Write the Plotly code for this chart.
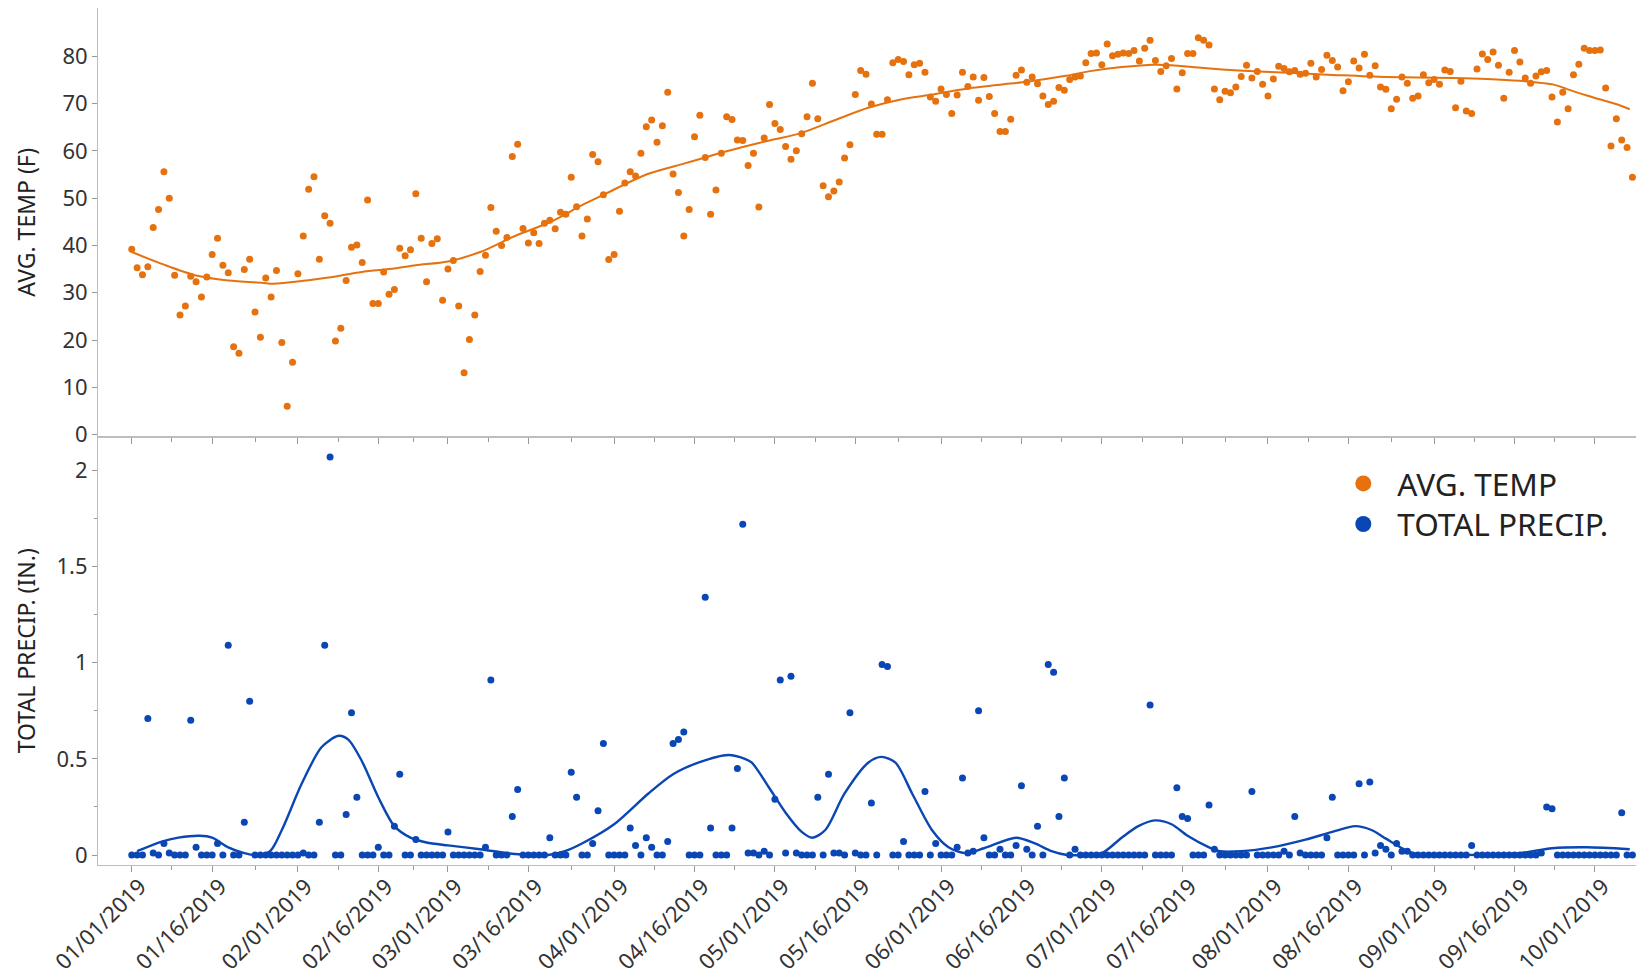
import pandas as pd
import plotly.graph_objects as go
from plotly.subplots import make_subplots

START = '2019-01-01'

# daily values, 01/01/2019 .. 10/08/2019
avg_temp = [
    39.2, 35.3, 33.8, 35.5, 43.8, 47.6, 55.6, 50.0, 33.7, 25.3,
    27.2, 33.5, 32.3, 29.1, 33.3, 38.1, 41.5, 35.8, 34.2, 18.6,
    17.2, 34.9, 37.1, 25.9, 20.6, 33.1, 29.1, 34.7, 19.5, 6.0,
    15.3, 34.0, 42.0, 51.9, 54.5, 37.1, 46.3, 44.7, 19.8, 22.5,
    32.6, 39.6, 40.1, 36.4, 49.6, 27.7, 27.7, 34.4, 29.7, 30.7,
    39.4, 37.8, 39.1, 50.9, 41.5, 32.3, 40.4, 41.4, 28.4, 35.0,
    36.8, 27.2, 13.1, 20.1, 25.3, 34.5, 37.9, 48.0, 43.0, 40.0,
    41.7, 58.8, 61.4, 43.6, 40.5, 42.7, 40.4, 44.7, 45.3, 43.5,
    47.0, 46.6, 54.4, 48.2, 42.0, 45.6, 59.2, 57.7, 50.7, 37.0,
    38.1, 47.2, 53.2, 55.6, 54.7, 59.5, 65.1, 66.5, 61.8, 65.3,
    72.4, 55.1, 51.2, 42.0, 47.6, 63.0, 67.5, 58.6, 46.6, 51.7,
    59.5, 67.2, 66.6, 62.3, 62.2, 56.9, 59.5, 48.1, 62.7, 69.8,
    65.8, 64.5, 60.9, 58.2, 60.0, 63.6, 67.2, 74.3, 66.8, 52.6,
    50.3, 51.5, 53.4, 58.5, 61.3, 71.9, 77.0, 76.2, 69.9, 63.5,
    63.5, 70.8, 78.6, 79.3, 78.9, 76.1, 78.2, 78.5, 76.6, 71.4,
    70.5, 73.1, 71.9, 67.9, 71.8, 76.6, 73.6, 75.6, 70.7, 75.5,
    71.5, 67.9, 64.1, 64.1, 66.7, 76.0, 77.1, 74.5, 75.6, 74.2,
    71.6, 69.8, 70.5, 73.4, 72.8, 75.1, 75.6, 75.8, 78.6, 80.6,
    80.7, 78.2, 82.6, 80.1, 80.4, 80.7, 80.6, 81.2, 79.0, 81.7,
    83.4, 79.1, 76.8, 78.0, 79.5, 73.1, 76.5, 80.6, 80.6, 83.9,
    83.4, 82.4, 73.1, 70.8, 72.6, 72.3, 73.5, 75.7, 78.1, 75.4,
    76.8, 74.1, 71.6, 75.2, 77.9, 77.4, 76.7, 77.0, 76.2, 76.4,
    78.5, 75.6, 77.2, 80.2, 79.1, 77.7, 72.7, 74.6, 79.0, 77.5,
    80.4, 76.0, 78.0, 73.5, 73.0, 68.9, 70.9, 75.6, 74.3, 71.1,
    71.6, 76.1, 74.4, 75.1, 74.1, 77.1, 76.8, 69.1, 74.7, 68.4,
    67.9, 77.3, 80.5, 79.3, 80.9, 78.1, 71.1, 76.6, 81.2, 78.8,
    75.4, 74.3, 75.8, 76.7, 77.0, 71.4, 66.1, 72.4, 68.9, 76.1,
    78.3, 81.7, 81.2, 81.2, 81.3, 73.3, 61.0, 66.8, 62.3, 60.7,
    54.4,
]

total_precip = [
    0, 0, 0, 0.71, 0.01, 0, 0.06, 0.01, 0, 0,
    0, 0.70, 0.04, 0, 0, 0, 0.06, 0, 1.09, 0,
    0, 0.17, 0.80, 0, 0, 0, 0, 0, 0, 0,
    0, 0, 0.01, 0, 0, 0.17, 1.09, 2.07, 0, 0,
    0.21, 0.74, 0.30, 0, 0, 0, 0.04, 0, 0, 0.15,
    0.42, 0, 0, 0.08, 0, 0, 0, 0, 0, 0.12,
    0, 0, 0, 0, 0, 0, 0.04, 0.91, 0, 0,
    0, 0.20, 0.34, 0, 0, 0, 0, 0, 0.09, 0,
    0, 0, 0.43, 0.30, 0, 0, 0.06, 0.23, 0.58, 0,
    0, 0, 0, 0.14, 0.05, 0, 0.09, 0.04, 0, 0,
    0.07, 0.58, 0.60, 0.64, 0, 0, 0, 1.34, 0.14, 0,
    0, 0, 0.14, 0.45, 1.72, 0.01, 0.01, 0, 0.02, 0,
    0.29, 0.91, 0.01, 0.93, 0.01, 0, 0, 0, 0.30, 0,
    0.42, 0.01, 0.01, 0, 0.74, 0.01, 0, 0, 0.27, 0,
    0.99, 0.98, 0, 0, 0.07, 0, 0, 0, 0.33, 0,
    0.06, 0, 0, 0, 0.04, 0.40, 0.01, 0.02, 0.75, 0.09,
    0, 0, 0.03, 0, 0, 0.05, 0.36, 0.03, 0, 0.15,
    0, 0.99, 0.95, 0.20, 0.40, 0, 0.03, 0, 0, 0,
    0, 0, 0, 0, 0, 0, 0, 0, 0, 0,
    0.78, 0, 0, 0, 0, 0.35, 0.20, 0.19, 0, 0,
    0, 0.26, 0.03, 0, 0, 0, 0, 0, 0, 0.33,
    0, 0, 0, 0, 0, 0.02, 0, 0.20, 0.01, 0,
    0, 0, 0, 0.09, 0.30, 0, 0, 0, 0, 0.37,
    0, 0.38, 0.01, 0.05, 0.03, 0, 0.06, 0.02, 0.02, 0,
    0, 0, 0, 0, 0, 0, 0, 0, 0, 0,
    0.05, 0, 0, 0, 0, 0, 0, 0, 0, 0,
    0, 0, 0, 0.01, 0.25, 0.24, 0, 0, 0, 0,
    0, 0, 0, 0, 0, 0, 0, 0, 0.22, 0,
    0,
]

# smoother curves (days since 01/01/2019, value)
temp_fit_day = [0, 5.6, 11.8, 18, 24.3, 26.5, 30.5, 36.7, 42.9, 49, 53, 59, 65,
                71.5, 78, 84, 88, 96, 103, 107, 110, 114, 119, 125, 131, 137.4,
                143.7, 148.8, 156, 167, 174, 178.5, 184.7, 190.9, 194, 200,
                206.5, 215.8, 225, 234, 246.6, 252.8, 259, 265.3, 267.7, 271.5,
                277.7, 279.5]
temp_fit_val = [38.6, 36.1, 33.7, 32.6, 32.1, 31.9, 32.3, 33.2, 34.4, 35.1, 35.8,
                36.6, 38.6, 42.0, 44.9, 48.5, 50.7, 55.0, 57.3, 58.6, 59.6, 60.8,
                62.2, 63.8, 66.4, 69.1, 70.9, 71.8, 73.2, 74.6, 75.8, 76.8, 77.7,
                78.2, 78.1, 77.5, 77.0, 76.5, 76.0, 75.6, 75.4, 75.2, 74.8, 74.0,
                73.1, 71.7, 69.6, 68.8]

precip_fit_day = [1, 5.6, 8.7, 12.7, 15, 18, 21, 23, 25.8, 28, 31.7, 35.4, 38.6,
                  40.4, 42.9, 46, 49, 52, 55, 59, 65, 71.5, 77.7, 80.8, 84, 90,
                  96.4, 101, 105.7, 111.3, 114.4, 115.7, 118.8, 122, 125, 127,
                  129.4, 133, 137.4, 139.9, 142.5, 145.6, 149.3, 152.4, 155.5, 159,
                  165, 168.5, 171.6, 174.5, 177, 181, 184.7, 187.8, 190.9, 194,
                  197, 201, 203, 207, 212.7, 219, 224, 228.3, 231.3, 234, 237, 239,
                  246, 259, 265, 271.5, 279.5]
precip_fit_val = [0.02, 0.07, 0.09, 0.10, 0.09, 0.04, 0.01, 0.0, 0.02, 0.13, 0.37,
                  0.56, 0.62, 0.60, 0.49, 0.30, 0.15, 0.09, 0.065, 0.05, 0.03, 0.005,
                  0.0, 0.02, 0.06, 0.16, 0.32, 0.42, 0.48, 0.52, 0.50, 0.48, 0.355,
                  0.22, 0.12, 0.09, 0.13, 0.32, 0.48, 0.51, 0.48, 0.32, 0.13, 0.04,
                  0.01, 0.035, 0.09, 0.06, 0.02, 0.0, 0.0, 0.01, 0.09, 0.15, 0.18,
                  0.16, 0.10, 0.04, 0.02, 0.02, 0.04, 0.08, 0.12, 0.15, 0.13, 0.085,
                  0.035, 0.01, 0.0, 0.01, 0.035, 0.04, 0.03]

ORANGE = '#E6720F'
BLUE = '#0A46B4'
FONT = 'Segoe UI, Noto Sans, sans-serif'
AXIS_GREY = '#BDBDBD'

t0 = pd.Timestamp(START)
dates = pd.date_range(START, periods=len(avg_temp), freq='D')


def to_dates(days):
    return [t0 + pd.Timedelta(days=d) for d in days]


fig = make_subplots(rows=2, cols=1, shared_xaxes=True, vertical_spacing=0)

fig.add_trace(go.Scatter(x=dates, y=avg_temp, mode='markers', name='AVG. TEMP',
                         marker=dict(color=ORANGE, size=7), showlegend=False), 1, 1)
fig.add_trace(go.Scatter(x=to_dates(temp_fit_day), y=temp_fit_val, mode='lines',
                         line=dict(color=ORANGE, width=2, shape='spline', smoothing=0.8),
                         showlegend=False, hoverinfo='skip'), 1, 1)
fig.add_trace(go.Scatter(x=dates, y=total_precip, mode='markers', name='TOTAL PRECIP.',
                         marker=dict(color=BLUE, size=7), showlegend=False), 2, 1)
fig.add_trace(go.Scatter(x=to_dates(precip_fit_day), y=precip_fit_val, mode='lines',
                         line=dict(color=BLUE, width=2.4, shape='spline', smoothing=0.8),
                         showlegend=False, hoverinfo='skip'), 2, 1)

# legend entries, one legend each so the row spacing can match
fig.add_trace(go.Scatter(x=[None], y=[None], mode='markers', name='AVG. TEMP',
                         marker=dict(color=ORANGE, size=16), legend='legend'), 2, 1)
fig.add_trace(go.Scatter(x=[None], y=[None], mode='markers', name='TOTAL PRECIP.',
                         marker=dict(color=BLUE, size=16), legend='legend2'), 2, 1)

major = []
for m in range(1, 11):
    major.append(pd.Timestamp(2019, m, 1))
    if m < 10:
        major.append(pd.Timestamp(2019, m, 16))
minor = [a + (b - a) / 2 for a, b in zip(major[:-1], major[1:])]
minor.append(major[-1] + pd.Timedelta(days=8))

xr = [t0 + pd.Timedelta(days=-6.3), t0 + pd.Timedelta(days=281.6)]
axis_common = dict(showline=True, linecolor=AXIS_GREY, linewidth=1, mirror=True,
                   showgrid=False, zeroline=False, ticks='outside', tickcolor='#999999',
                   tickfont=dict(family=FONT, size=22, color='#333333'))

fig.update_xaxes(range=xr, tickvals=major, ticktext=[d.strftime('%m/%d/%Y') for d in major],
                 tickangle=-45, ticklen=6, ticklabelshift=8, ticklabelstandoff=-7,
                 minor=dict(tickvals=minor, ticks='outside', ticklen=4, tickcolor='#999999'),
                 **axis_common)
fig.update_xaxes(showticklabels=False, row=1, col=1)

fig.update_yaxes(range=[-0.4, 90.2], tickvals=list(range(0, 81, 10)), ticklen=5,
                 title=dict(text='AVG. TEMP (F)', standoff=20,
                            font=dict(family=FONT, size=23, color='#222222')),
                 row=1, col=1, **axis_common)
fig.update_yaxes(range=[-0.052, 2.176], tickvals=[0, 0.5, 1, 1.5, 2],
                 ticktext=['0', '0.5', '1', '1.5', '2'], ticklen=5,
                 minor=dict(dtick=0.25, ticks='outside', ticklen=3, tickcolor='#999999'),
                 title=dict(text='TOTAL PRECIP. (IN.)', standoff=14,
                            font=dict(family=FONT, size=23, color='#222222')),
                 row=2, col=1, **axis_common)

legend_style = dict(xanchor='left', yanchor='top', itemwidth=58, bgcolor='rgba(0,0,0,0)',
                    font=dict(family=FONT, size=31.5, color='#222222'))

# page body has an 8px margin, so the figure is sized to fit inside the window
fig.update_layout(
    width=1636, height=971,
    margin=dict(l=90, r=3, t=0, b=114),
    paper_bgcolor='white', plot_bgcolor='white',
    font=dict(family=FONT, color='#222222'),
    legend=dict(x=0.798, y=0.4767, **legend_style),
    legend2=dict(x=0.798, y=0.4294, **legend_style),
)

fig.write_html('out.html')
